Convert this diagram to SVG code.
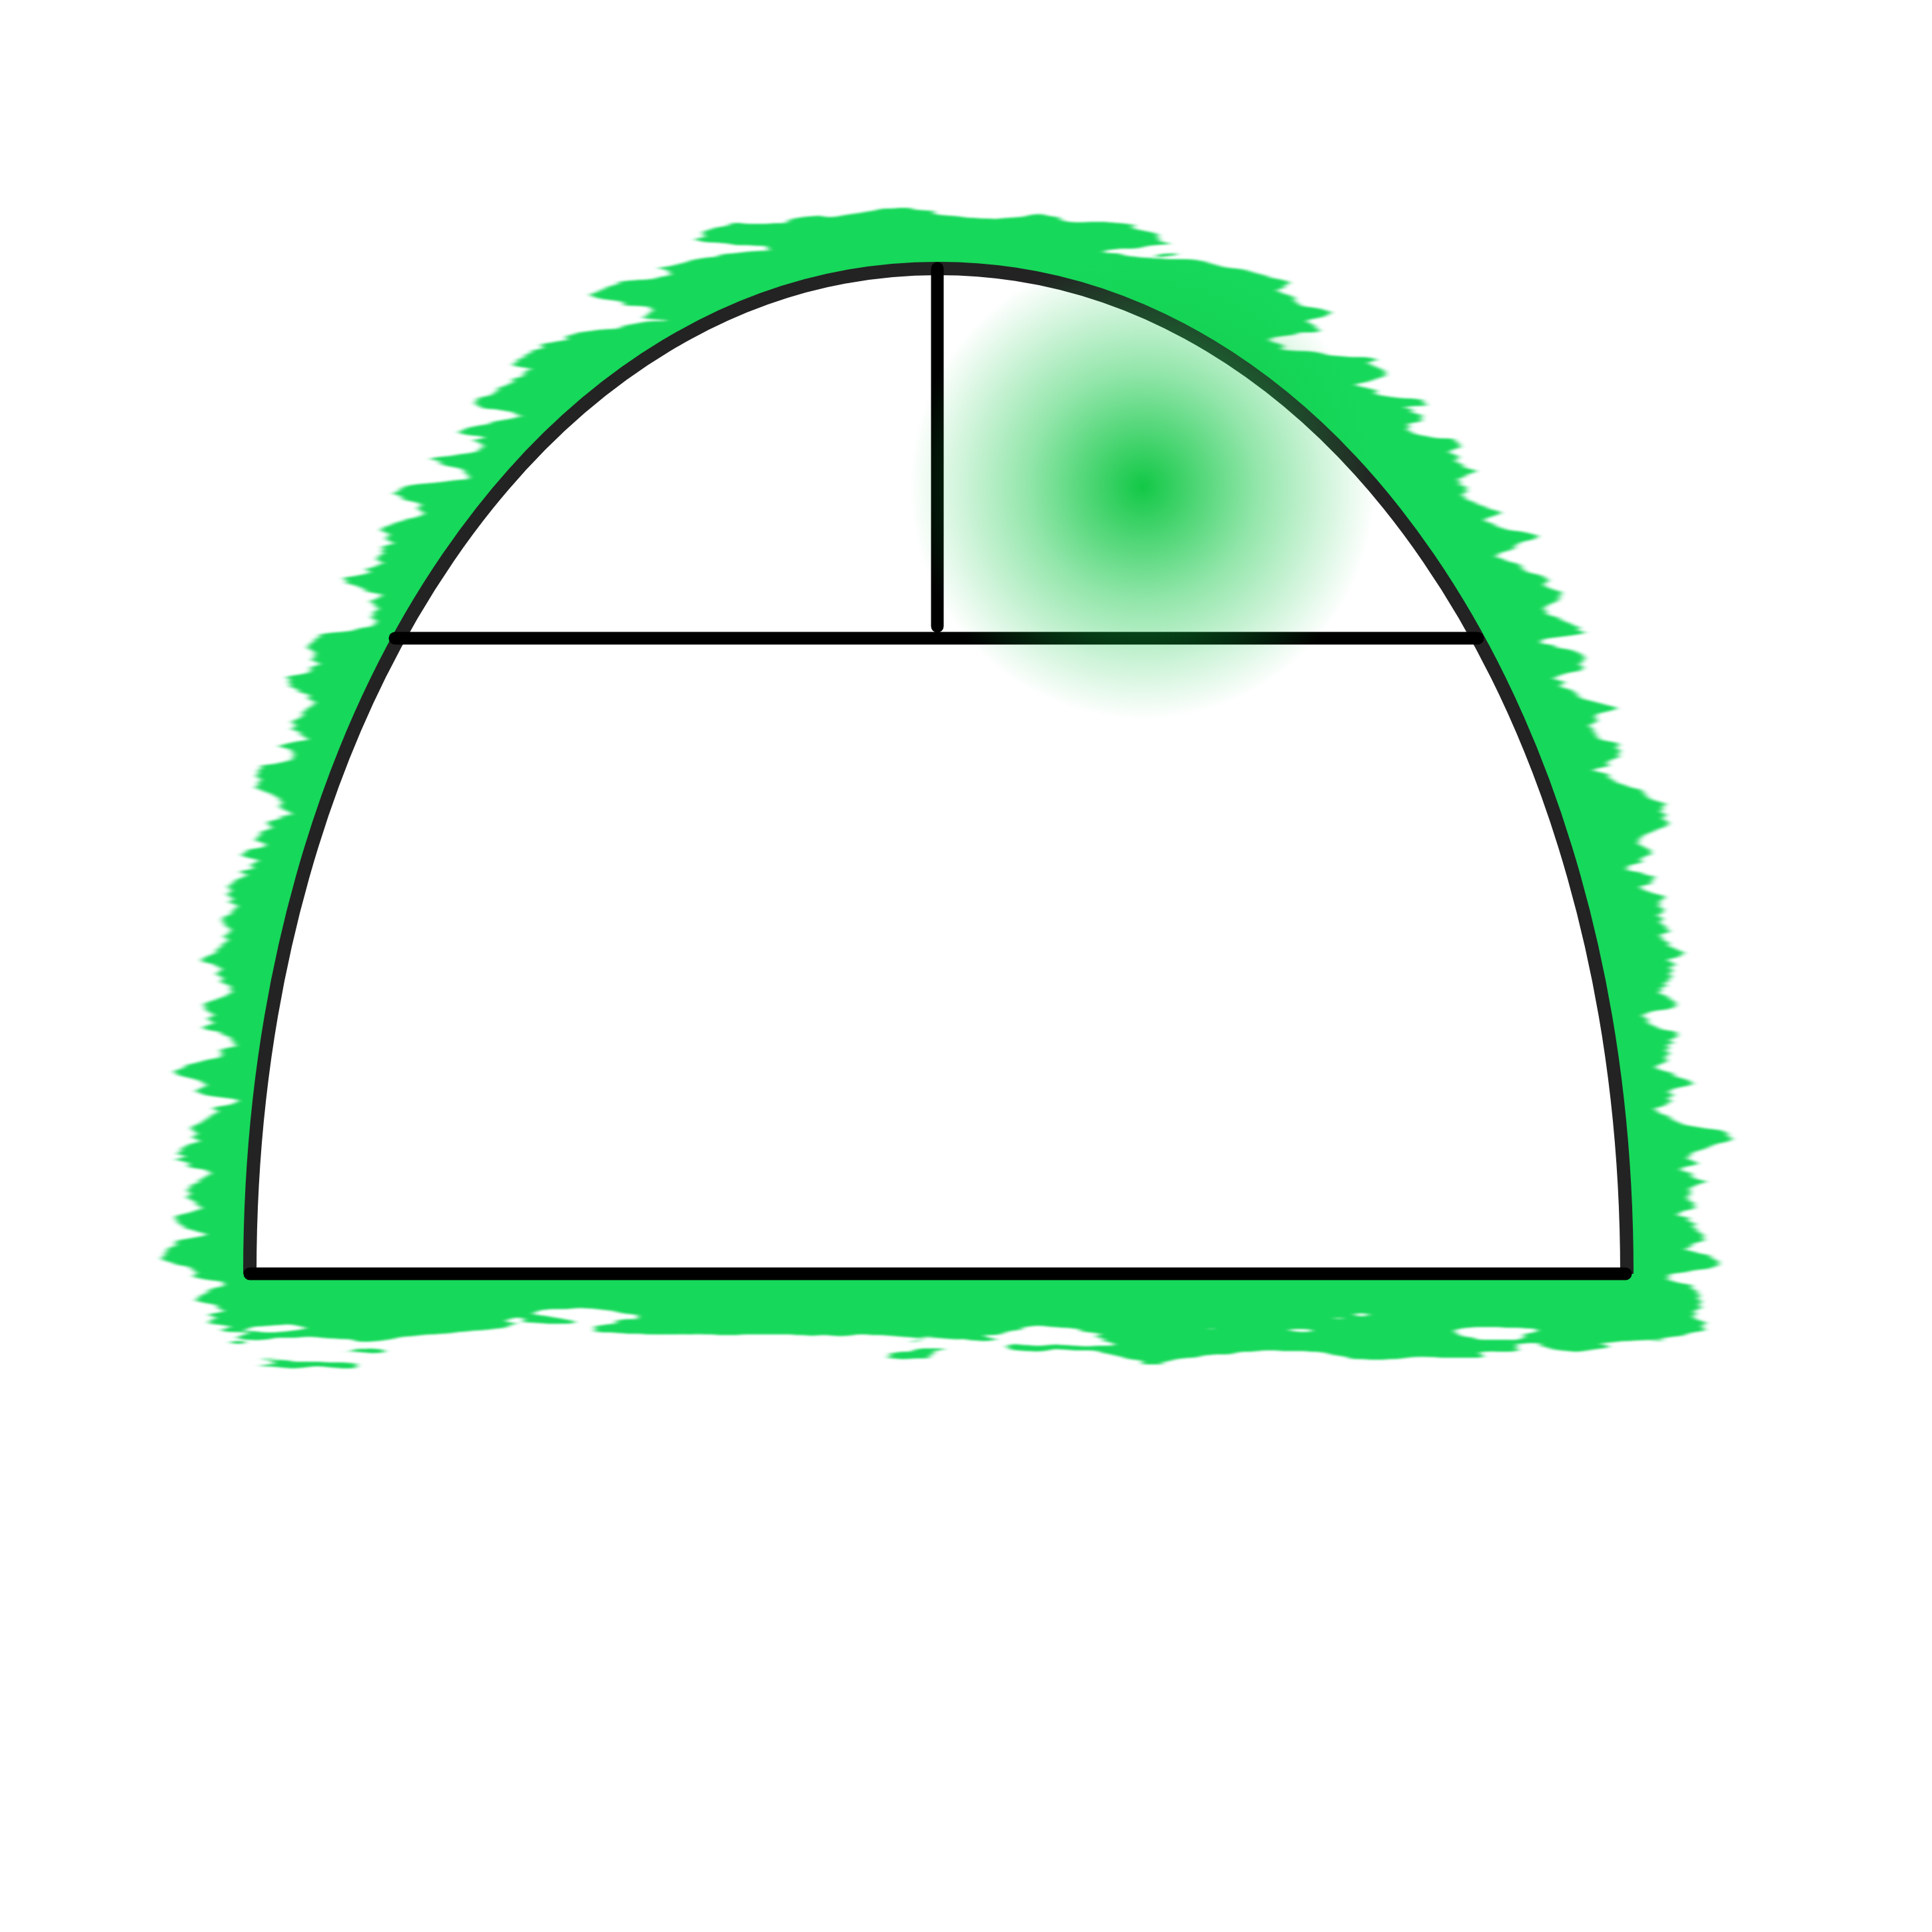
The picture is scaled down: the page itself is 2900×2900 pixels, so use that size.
<svg xmlns="http://www.w3.org/2000/svg" width="2900" height="2900" viewBox="0 0 2900 2900">
<defs>
<style>
.halo{fill:none;stroke:#14d85a;stroke-width:200;stroke-linejoin:round}
.arch{fill:#fff;stroke:#232323;stroke-width:20}
.ln{stroke:#000;stroke-width:19;stroke-linecap:round;fill:none}
</style>
<filter id="fur" filterUnits="userSpaceOnUse" x="0" y="0" width="2900" height="2900">
<feTurbulence type="fractalNoise" baseFrequency="0.003 0.022" numOctaves="4" seed="11" result="n"/>
<feDisplacementMap in="SourceGraphic" in2="n" scale="170" xChannelSelector="R" yChannelSelector="G" result="d"/>
<feGaussianBlur in="d" stdDeviation="5 1.5"/>
</filter>
<radialGradient id="glow" gradientUnits="userSpaceOnUse" cx="1715" cy="730" r="350">
<stop offset="0" stop-color="#12c846" stop-opacity="1"/>
<stop offset="0.5" stop-color="#12c846" stop-opacity="0.45"/>
<stop offset="1" stop-color="#12c846" stop-opacity="0"/>
</radialGradient>
</defs>
<rect width="2900" height="2900" fill="#fff"/>
<g id="halo" filter="url(#fur)">
<path class="halo" transform="translate(14,0)" d="M375,1912 C375,1058 824,403 1408,403 C1992,403 2442,1058 2442,1912 Z"/>
</g>
<g id="arch">
<path class="arch" d="M375,1912 C375,1058 824,403 1408,403 C1992,403 2442,1058 2442,1912"/>
</g>
<g id="lines">
<line class="ln" x1="375" y1="1912" x2="2440" y2="1912"/>
<line class="ln" x1="593" y1="958" x2="2218" y2="958"/>
<line class="ln" x1="1407" y1="403" x2="1407" y2="940"/>
</g>
<g id="glow-spot">
<circle cx="1715" cy="730" r="350" fill="url(#glow)"/>
</g>
</svg>
